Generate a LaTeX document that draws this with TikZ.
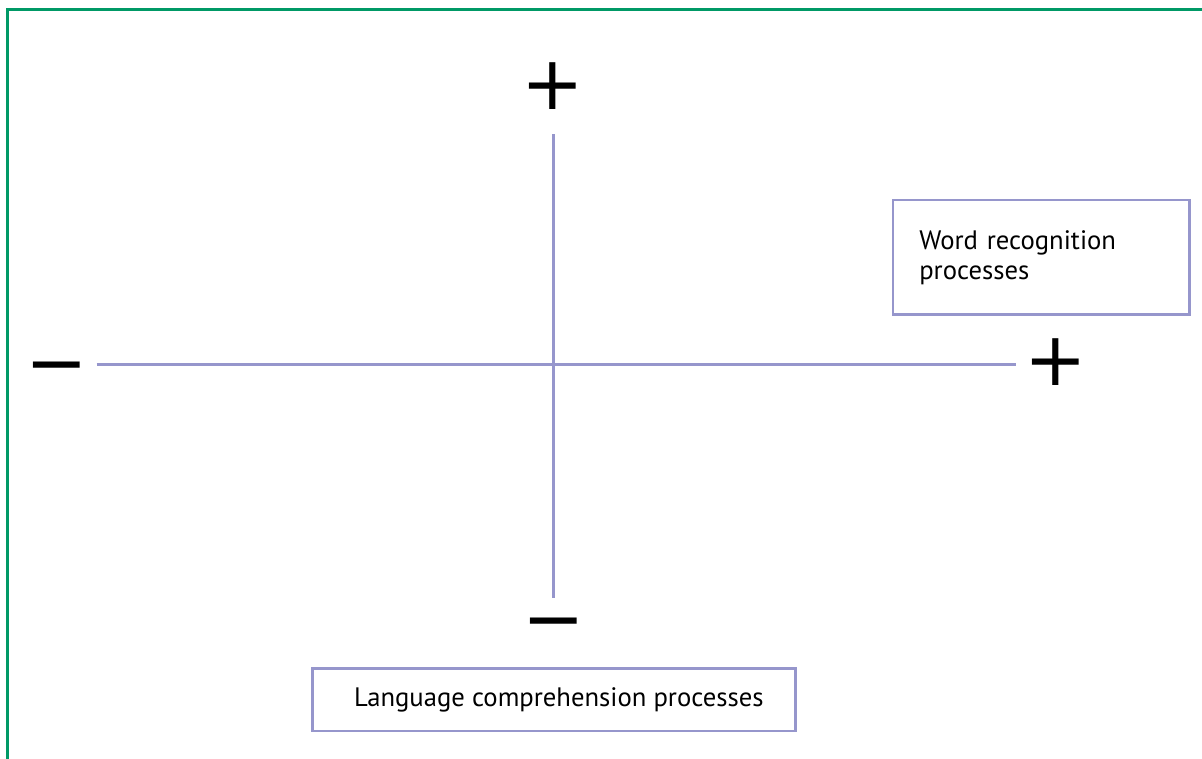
\documentclass[tikz,border=0pt]{standalone}
\usepackage{fontspec}
\setmainfont{PT Sans}
\newfontfamily\symfont{DejaVu Sans}
\definecolor{framegreen}{RGB}{0,153,102}
\definecolor{axisblue}{RGB}{150,150,204}
\tikzset{
  axisline/.style={draw=axisblue, line width=2.1pt},
  labelbox/.style={draw=axisblue, line width=1.8pt, fill=white},
  sign/.style={inner sep=0pt, font=\symfont\fontsize{56}{56}\selectfont},
}
\begin{document}
\begin{tikzpicture}[x=0.75pt, y=-0.75pt]
\useasboundingbox (0,0) rectangle (1202,758);
% frame (only top and left visible)
\draw[framegreen, line width=2.4pt] (7.5,770) -- (7.5,9.5) -- (1215,9.5);
% axis ends
\coordinate (vtop) at (553.3,134);
\coordinate (vbot) at (553.3,597.7);
\coordinate (hleft) at (96.7,364.3);
\coordinate (hright) at (1016,364.3);
\draw[axisline] (vtop) -- (vbot);
\draw[axisline] (hleft) -- (hright);
% signs
\node[sign] (ptop) at (553,86) {+};
\node[sign] (pright) at (1055.5,362.5) {+};
\node[sign] (mleft) at (56.8,375.5) {−};
\node[sign] (mbot) at (554,631) {−};
% boxes
\node[labelbox, minimum width=296.6*0.75pt, minimum height=114.7*0.75pt,
      text width=296.6*0.75pt-2*26.6*0.75pt, inner xsep=26.6*0.75pt, align=left,
      font=\fontsize{20}{22.5}\selectfont] (wr) at (1041,257.3)
  {Word recognition\\processes};
\node[labelbox, minimum width=483*0.75pt, minimum height=62.7*0.75pt,
      font=\fontsize{20}{22.5}\selectfont] (lc) at (553.8,699.7)
  {\hspace*{7.5pt}Language comprehension processes};
\end{tikzpicture}
\end{document}
